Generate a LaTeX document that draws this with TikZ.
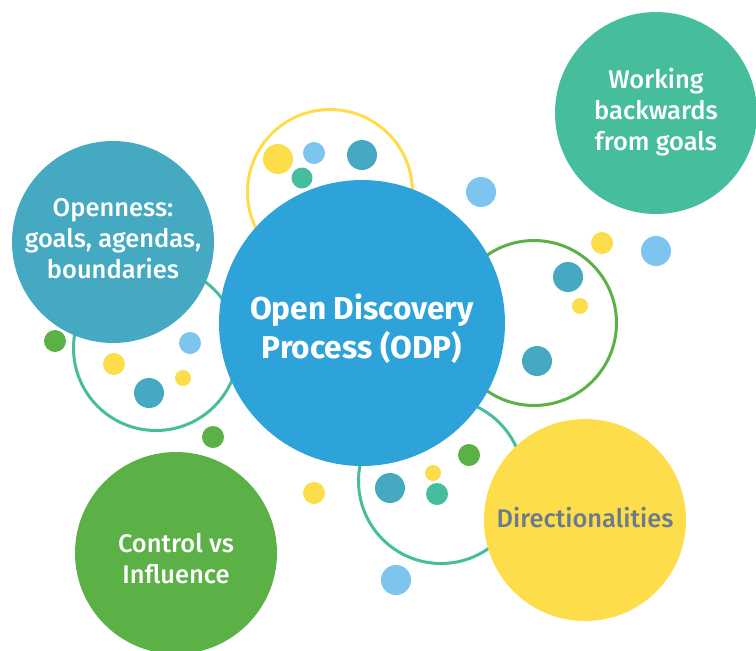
\documentclass[tikz,border=0pt]{standalone}
\usepackage{fontspec}
\setmainfont{Fira Sans}[UprightFont=* Medium, BoldFont=* Bold]
\definecolor{odpblue}{HTML}{2EA3DA}
\definecolor{tealc}{HTML}{45A9C2}
\definecolor{mintc}{HTML}{46BD9C}
\definecolor{greenc}{HTML}{5BB146}
\definecolor{yellowc}{HTML}{FDDD4A}
\definecolor{skyc}{HTML}{7DC4EE}
\definecolor{slatec}{HTML}{6B7A8F}
\begin{document}
\begin{tikzpicture}[x=0.02cm, y=-0.02cm,
  ring/.style={circle, draw, line width=1.7pt, inner sep=0pt, minimum size=3.3cm},
  bigdisc/.style={circle, draw=none, inner sep=0pt, minimum size=4.04cm},
  disctext/.style={align=center, text=white, font=\fontsize{14.5}{17.6}\selectfont}]
%%%%%%%%%%%%%%%%%%%%%%%%%%%%%%%%%%%%%%%%%%% HELP LINES
%\draw[help lines, step=50] (0,0) grid (756,650);
\useasboundingbox (0,0) rectangle (756,650);

%%%%%%%%%%%%%%%%%%%%%%%%%%%%%%%%%%%%%%%%%%% rings
\node[ring, draw=yellowc] (ringtop) at (330,192){};
\node[ring, draw=mintc] (ringleft) at (156,348){};
\node[ring, draw=greenc] (ringright) at (534,323){};
\node[ring, draw=mintc] (ringbottom) at (441,481){};

%%%%%%%%%%%%%%%%%%%%%%%%%%%%%%%%%%%%%%%%%%% dots
\fill[yellowc] (278,159) circle (15);
\fill[skyc] (314,153) circle (11);
\fill[mintc] (302,178) circle (10.5);
\fill[tealc] (362,155) circle (15);
\fill[greenc] (55,341) circle (11);
\fill[skyc] (190,343) circle (11);
\fill[yellowc] (114,364) circle (11);
\fill[yellowc] (183,378) circle (8);
\fill[tealc] (149,393) circle (15);
\fill[greenc] (213,437) circle (11);
\fill[skyc] (481,192) circle (15);
\fill[yellowc] (602,243) circle (11);
\fill[skyc] (656,251) circle (15);
\fill[tealc] (568,277) circle (15);
\fill[yellowc] (580,306) circle (8);
\fill[tealc] (537,361) circle (15);
\fill[greenc] (469,455) circle (11);
\fill[yellowc] (433,473) circle (8);
\fill[tealc] (390,488) circle (15);
\fill[mintc] (437,494) circle (11);
\fill[skyc] (396,580) circle (15);
\fill[yellowc] (314,493) circle (11);

%%%%%%%%%%%%%%%%%%%%%%%%%%%%%%%%%%%%%%%%%%% discs
\node[bigdisc, fill=tealc] (openness) at (113,242){};
\node[bigdisc, fill=mintc] (backwards) at (656,113){};
\node[bigdisc, fill=greenc] (control) at (176,553){};
\node[bigdisc, fill=yellowc] (direction) at (585,520){};
\node[bigdisc, fill=odpblue, minimum size=5.72cm] (odp) at (362,323){};

%%%%% texts
\node[disctext] (t1) at (113,239){Openness:\\goals, agendas,\\boundaries};
\node[disctext] (t2) at (656,112){Working\\backwards\\from goals};
\node[disctext] (t3) at (176,559){Control vs\\Influence};
\node[disctext, text=slatec] (t4) at (585,518){Directionalities};
\node[disctext, font=\bfseries\fontsize{18}{22}\selectfont] (t5) at (362,329){Open Discovery\\Process (ODP)};

\end{tikzpicture}
\end{document}
